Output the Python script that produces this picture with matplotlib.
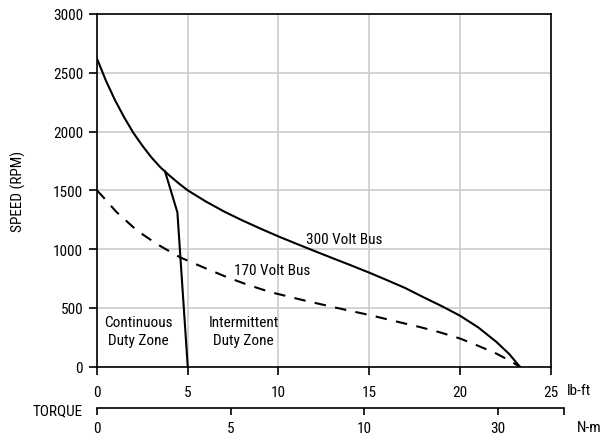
import matplotlib
matplotlib.use("Agg")
from matplotlib import pyplot as plt
from matplotlib import font_manager

# torque (lb-ft) / speed (rpm)
v300_x = [0, 0.5, 1.0, 1.5, 2.0, 2.5, 3.0, 3.5, 3.75, 4.0, 4.5, 5, 6, 7, 8, 9, 10, 11, 12,
          13, 14, 15, 16, 17, 18, 19, 20, 21, 22, 22.7, 23.3]
v300_y = [2620, 2430, 2265, 2120, 1990, 1880, 1780, 1695, 1660, 1625, 1560, 1500, 1405,
          1320, 1245, 1175, 1108, 1045, 983, 922, 862, 800, 735, 668, 590, 515, 434,
          335, 212, 110, 0]

v170_x = [0, 0.35, 1.09, 2.19, 3.29, 4.58, 5.86, 7.15, 8.3, 9.54, 11.38, 13.22, 15.06,
          16.4, 17.8, 18.9, 20.0, 21.0, 22.0, 22.7, 23.3]
v170_y = [1500, 1441, 1313, 1160, 1044, 930, 845, 762, 697, 635, 565, 500, 438,
          388, 337, 292, 240, 178, 112, 55, 0]

cont_x = [3.75, 4.43, 5.0]
cont_y = [1660, 1313, 0]

lbft_ticks = [0, 5, 10, 15, 20, 25]
rpm_ticks = [0, 500, 1000, 1500, 2000, 2500, 3000]
nm_ticks = [0, 10, 20, 30, 35]
nm_labels = ["0", "5", "10", "30", ""]

# a narrow sans if there is one, else plain Liberation Sans
narrow = None
for f in font_manager.fontManager.ttflist:
    fn = f.fname.lower()
    if ("narrow" in fn or "condensed" in fn) and "bold" not in fn and "italic" not in fn \
            and "oblique" not in fn and ("liberation" in fn or "arial" in fn or "roboto" in fn):
        narrow = f
        break
if narrow is not None:
    plt.rcParams['font.family'] = [narrow.name, 'DejaVu Sans']
    plt.rcParams['font.stretch'] = narrow.stretch
    fs = 11
else:
    plt.rcParams['font.family'] = ['Liberation Sans', 'DejaVu Sans']
    fs = 10.5
plt.rcParams['font.size'] = fs

W, H = 604, 439
fig = plt.figure(figsize=(W / 100, H / 100), dpi=100)
ax = fig.add_axes([97 / W, 1 - 367.7 / H, (550.7 - 97) / W, (367.7 - 15) / H])

ax.plot(v300_x, v300_y, color="black", lw=1.5)
ax.plot(v170_x, v170_y, color="black", lw=1.5, dashes=(5.5, 4.5))
ax.plot(cont_x, cont_y, color="black", lw=1.5)

ax.set_xlim(0, 25)
ax.set_ylim(0, 3000)
ax.set_xticks(lbft_ticks)
ax.set_yticks(rpm_ticks)
ax.grid(True, color="#cccccc", lw=1.2)
ax.set_axisbelow(True)
for s in ax.spines.values():
    s.set_linewidth(1.2)
ax.tick_params(direction="out", length=6, width=1.2, colors="black")
ax.tick_params(axis="x", pad=7)
ax.tick_params(axis="y", pad=4)
ax.set_ylabel("SPEED (RPM)", labelpad=19)

ax.text(11.5, 1090, "300 Volt Bus", va="center", ha="left")
ax.text(7.55, 825, "170 Volt Bus", va="center", ha="left")
ax.text(2.3, 304, "Continuous\nDuty Zone", va="center", ha="center", linespacing=1.35)
ax.text(8.07, 304, "Intermittent\nDuty Zone", va="center", ha="center", linespacing=1.35)

fig.text(567 / W, 1 - 391 / H, "lb-ft", va="center", ha="left")

# second torque scale in N-m
ax2 = fig.add_axes([97 / W, 1 - 409.3 / H, (564.3 - 97) / W, 0.0001])
ax2.set_xlim(0, 35)
ax2.set_ylim(0, 1)
ax2.set_yticks([])
for k in ["top", "left", "right"]:
    ax2.spines[k].set_visible(False)
ax2.spines["bottom"].set_linewidth(1.2)
ax2.set_xticks(nm_ticks)
ax2.set_xticklabels(nm_labels)
ax2.tick_params(direction="out", length=5, width=1.2, pad=4)
ax2.patch.set_visible(False)

fig.text(83 / W, 1 - 411 / H, "TORQUE", va="center", ha="right")
fig.text(577 / W, 1 - 428 / H, "N-m", va="center", ha="left")

fig.savefig("out.png", dpi=100)
